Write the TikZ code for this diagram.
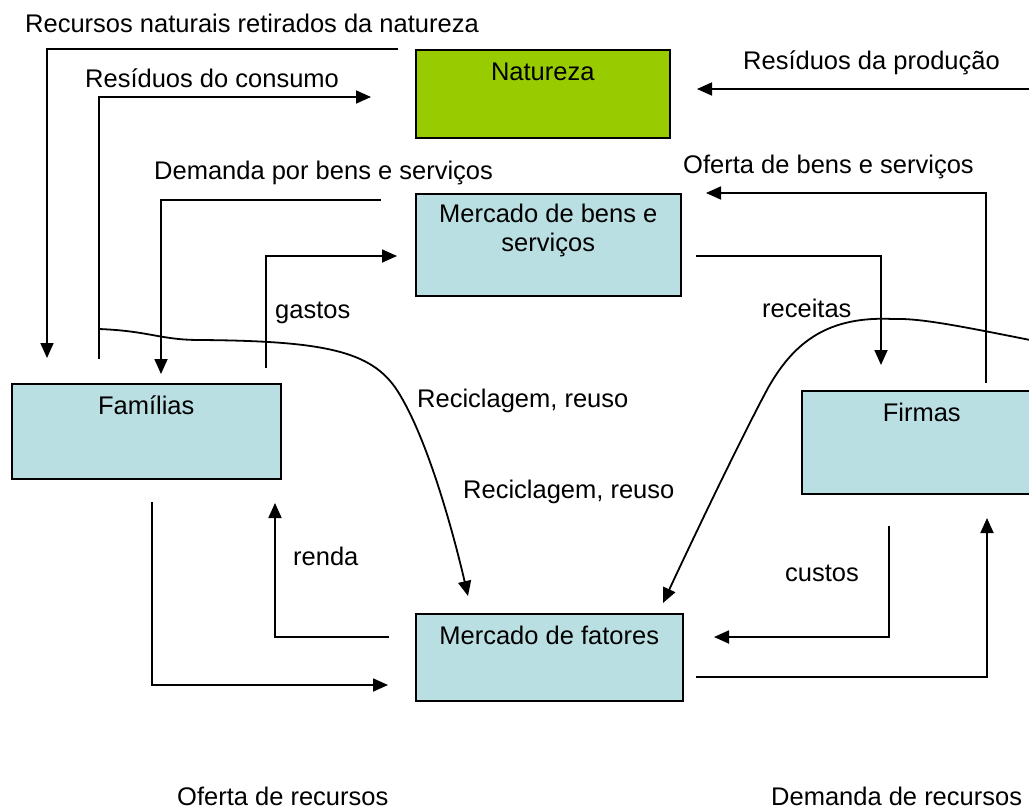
\documentclass[tikz,border=0pt]{standalone}
\usepackage{fontspec}
\setmainfont{Liberation Sans}
\usetikzlibrary{arrows.meta}
\definecolor{azulcaixa}{RGB}{185,223,226}
\definecolor{verdenat}{RGB}{153,204,0}

\begin{document}
\begin{tikzpicture}[
		x=1pt, y=-1pt,
		every node/.style={font=\fontsize{25.5}{29}\selectfont, inner sep=0pt},
		caixa/.style={draw, line width=1.5pt, anchor=north west, fill=azulcaixa},
		rotulo/.style={anchor=base, yshift=-31pt},
		texto/.style={anchor=base west},
		fluxo/.style={line width=1.8pt, -{Triangle[length=15pt,width=13pt]}},
		linha/.style={line width=1.8pt}
		]
		\useasboundingbox (0,0) rectangle (1029,811);

		\node[caixa, fill=verdenat, minimum width=254pt, minimum height=88pt,
			label={[rotulo]north:Natureza}] (nat) at (415,49) {};
		\node[caixa, minimum width=265pt, minimum height=102pt,
			label={[anchor=north, yshift=-11pt, align=center]north:Mercado de bens e\\servi\c{c}os}] (mbens) at (415,193) {};
		\node[caixa, minimum width=269pt, minimum height=95pt,
			label={[rotulo]north:Fam\'ilias}] (fam) at (11,383) {};
		\node[caixa, minimum width=240pt, minimum height=103pt,
			label={[rotulo]north:Firmas}] (firm) at (801,390) {};
		\node[caixa, minimum width=267pt, minimum height=87pt,
			label={[rotulo]north:Mercado de fatores}] (mfat) at (415,613) {};

		\coordinate (r1) at (398,49);   \coordinate (r2) at (47,358);
		\coordinate (c1) at (99,359);   \coordinate (c2) at (371,97);
		\coordinate (d1) at (381,200);  \coordinate (d2) at (161,374);
		\coordinate (g1) at (266,368);  \coordinate (g2) at (397,256);
		\coordinate (e1) at (696,256);  \coordinate (e2) at (881,365);
		\coordinate (o1) at (986,383);  \coordinate (o2) at (706,193);
		\coordinate (p1) at (1040,89);  \coordinate (p2) at (697,89);
		\coordinate (u1) at (889,526);  \coordinate (u2) at (714,637);
		\coordinate (b1) at (696,677);  \coordinate (b2) at (987,518);
		\coordinate (l1) at (152,502);  \coordinate (l2) at (388,685);
		\coordinate (n1) at (389,637);  \coordinate (n2) at (275,503);
		\coordinate (cl1) at (99,329);  \coordinate (cl2) at (468,596);
		\coordinate (cr1) at (1040,342); \coordinate (cr2) at (663,603);

		\draw[fluxo] (r1) -| (r2);
		\draw[fluxo] (c1) |- (c2);
		\draw[fluxo] (d1) -| (d2);
		\draw[fluxo] (g1) |- (g2);
		\draw[fluxo] (e1) -| (e2);
		\draw[fluxo] (o1) |- (o2);
		\draw[fluxo] (p1) -- (p2);
		\draw[fluxo] (u1) |- (u2);
		\draw[fluxo] (b1) -| (b2);
		\draw[fluxo] (l1) |- (l2);
		\draw[fluxo] (n1) -| (n2);
		\draw[fluxo] (cl1) .. controls (150,331) and (160,340) .. (200,340)
			.. controls (330,341) and (375,352) .. (400,395)
			.. controls (430,445) and (455,540) .. (cl2);
		\draw[fluxo] (cr1) .. controls (960,326) and (920,318) .. (893,319)
			.. controls (830,316) and (795,340) .. (768,388)
			.. controls (740,440) and (690,545) .. (cr2);

		\node[texto] (t1) at (25,32) {Recursos naturais retirados da natureza};
		\node[texto] (t2) at (85,87) {Res\'iduos do consumo};
		\node[texto] (t3) at (154,179) {Demanda por bens e servi\c{c}os};
		\node[texto] (t4) at (275,318) {gastos};
		\node[texto] (t5) at (417,407) {Reciclagem, reuso};
		\node[texto] (t6) at (463,498) {Reciclagem, reuso};
		\node[texto] (t7) at (293,565) {renda};
		\node[texto] (t8) at (743,69) {Res\'iduos da produ\c{c}\~ao};
		\node[texto] (t9) at (683,173) {Oferta de bens e servi\c{c}os};
		\node[texto] (t10) at (762,317) {receitas};
		\node[texto] (t11) at (785,581) {custos};
		\node[texto] (t12) at (177,805) {Oferta de recursos};
		\node[texto] (t13) at (771,805) {Demanda de recursos};
	\end{tikzpicture}
\end{document}
